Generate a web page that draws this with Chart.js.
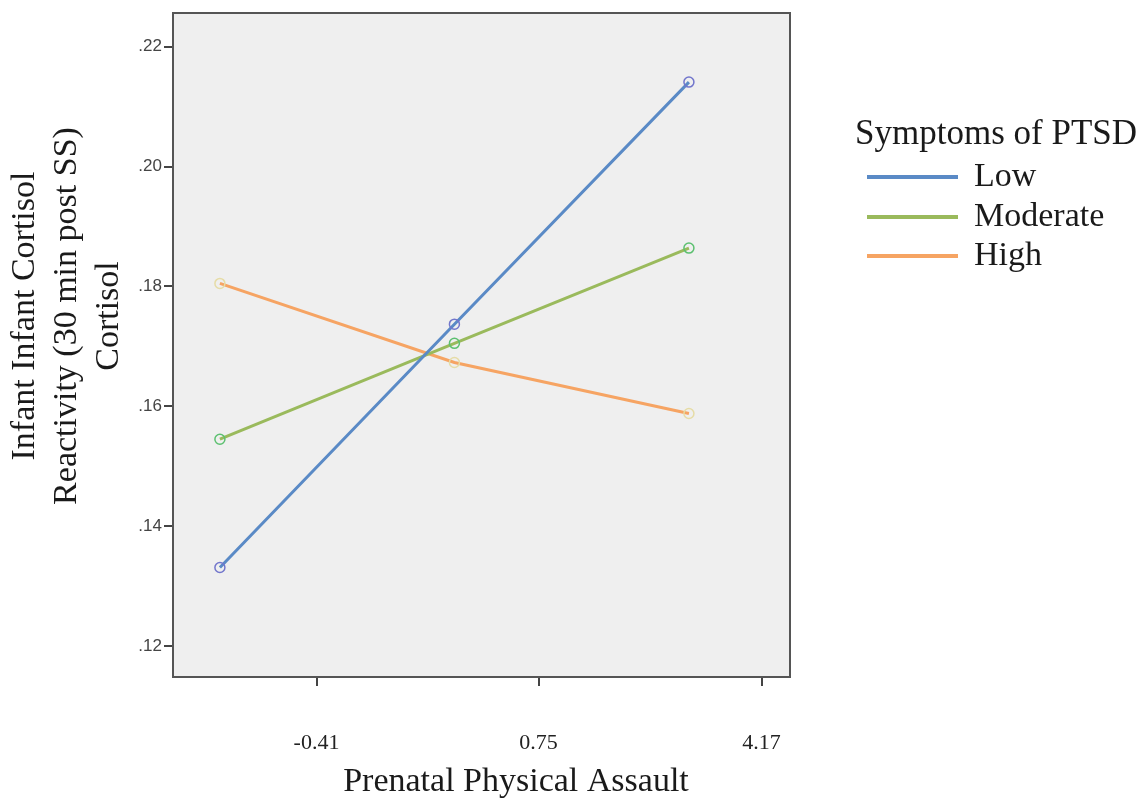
<!DOCTYPE html>
<html>
<head>
<meta charset="utf-8">
<title>Infant Cortisol Reactivity</title>
<script src="https://cdn.jsdelivr.net/npm/chart.js@4.4.1/dist/chart.umd.min.js"></script>
<style>
  html, body { margin: 0; padding: 0; background: #fff; }
  #wrap { width: 1141px; height: 801px; }
</style>
</head>
<body>
<div id="wrap"><canvas id="chart" width="1141" height="801"></canvas></div>
<script>
// categories on the x axis (SPSS puts the tick labels off the points)
var xLabels = ['-0.41', '0.75', '4.17'];
var xTickPos = [0.412, 1.359, 2.31];

// series values
var seriesNames = ['Low', 'Moderate', 'High'];
var lowVals = [0.1331, 0.1737, 0.2141];
var modVals = [0.1545, 0.1705, 0.1864];
var highVals = [0.1805, 0.1673, 0.1588];

var yTicks = [0.12, 0.14, 0.16, 0.18, 0.20, 0.22];

var yTitle = ['Infant Infant Cortisol', 'Reactivity (30 min post SS)', 'Cortisol'];
var xTitle = 'Prenatal Physical Assault';
var legendTitle = 'Symptoms of PTSD';

var serif = '"Liberation Serif", "Times New Roman", serif';

function toPoints(vals) {
  return vals.map(function (v, i) { return { x: i, y: v }; });
}

// plot background, top/right frame, titles and legend
var decor = {
  id: 'decor',
  beforeDraw: function (chart) {
    var ctx = chart.ctx, a = chart.chartArea;
    ctx.save();
    ctx.fillStyle = '#efefef';
    ctx.fillRect(a.left, a.top, a.right - a.left, a.bottom - a.top);
    ctx.restore();
  },
  afterDraw: function (chart) {
    var ctx = chart.ctx, a = chart.chartArea;
    ctx.save();
    ctx.strokeStyle = '#555';
    ctx.lineWidth = 2;
    ctx.strokeRect(a.left, a.top, a.right - a.left, a.bottom - a.top);

    ctx.fillStyle = '#1a1a1a';
    ctx.font = '34px ' + serif;
    ctx.textAlign = 'center';

    // y title, three rotated lines
    ctx.save();
    ctx.translate(0, 316);
    ctx.rotate(-Math.PI / 2);
    ctx.textBaseline = 'middle';
    var xs = [25, 67, 109];
    for (var i = 0; i < yTitle.length; i++) {
      ctx.fillText(yTitle[i], 0, xs[i]);
    }
    ctx.restore();

    // x title
    ctx.textBaseline = 'alphabetic';
    ctx.fillText(xTitle, 516, 791);

    // legend
    ctx.textAlign = 'left';
    ctx.font = '35px ' + serif;
    ctx.fillText(legendTitle, 855, 144);
    ctx.font = '34px ' + serif;
    var rows = [177, 217, 256];
    chart.data.datasets.forEach(function (ds, k) {
      ctx.strokeStyle = ds.borderColor;
      ctx.lineWidth = 4;
      ctx.beginPath();
      ctx.moveTo(867, rows[k]);
      ctx.lineTo(958, rows[k]);
      ctx.stroke();
      ctx.fillText(ds.label, 974, rows[k] + 9);
    });
    ctx.restore();
  }
};

var lineColors = ['#5a8ac6', '#9aba5c', '#f6a463'];
var markColors = ['#7276cc', '#5cc070', '#e6dca6'];
var allVals = [lowVals, modVals, highVals];

var datasets = allVals.map(function (vals, k) {
  return {
    label: seriesNames[k],
    data: toPoints(vals),
    borderColor: lineColors[k],
    borderWidth: 3,
    pointRadius: 5,
    pointBorderWidth: 1.5,
    pointBorderColor: markColors[k],
    pointBackgroundColor: 'rgba(0,0,0,0)',
    tension: 0,
    fill: false
  };
});

var chart = new Chart(document.getElementById('chart').getContext('2d'), {
  type: 'line',
  data: { datasets: datasets },
  plugins: [decor],
  options: {
    responsive: false,
    animation: false,
    layout: { padding: { left: 0, top: 13, right: 351, bottom: 0 } },
    plugins: {
      legend: { display: false },
      tooltip: { enabled: false }
    },
    scales: {
      x: {
        type: 'linear',
        min: -0.2,
        max: 2.431,
        afterBuildTicks: function (scale) {
          scale.ticks = xTickPos.map(function (v) { return { value: v }; });
        },
        afterFit: function (scale) { scale.height = 124; },
        ticks: {
          autoSkip: false,
          maxRotation: 0,
          padding: 44,
          color: '#222',
          font: { family: serif, size: 22 },
          callback: function (v, i) { return xLabels[i]; }
        },
        grid: {
          drawOnChartArea: false,
          drawTicks: true,
          tickLength: 9,
          color: '#444',
          lineWidth: 2
        },
        border: { display: true, color: '#555', width: 2 }
      },
      y: {
        type: 'linear',
        min: 0.11482,
        max: 0.22563,
        afterBuildTicks: function (scale) {
          scale.ticks = yTicks.map(function (v) { return { value: v }; });
        },
        afterFit: function (scale) { scale.width = 173; },
        ticks: {
          padding: 2,
          color: '#444',
          font: { family: '"Liberation Sans", Arial, sans-serif', size: 17 },
          callback: function (v) { return v.toFixed(2).replace(/^0/, ''); }
        },
        grid: {
          drawOnChartArea: false,
          drawTicks: true,
          tickLength: 9,
          color: '#444',
          lineWidth: 2
        },
        border: { display: true, color: '#555', width: 2 }
      }
    }
  }
});
</script>
</body>
</html>
